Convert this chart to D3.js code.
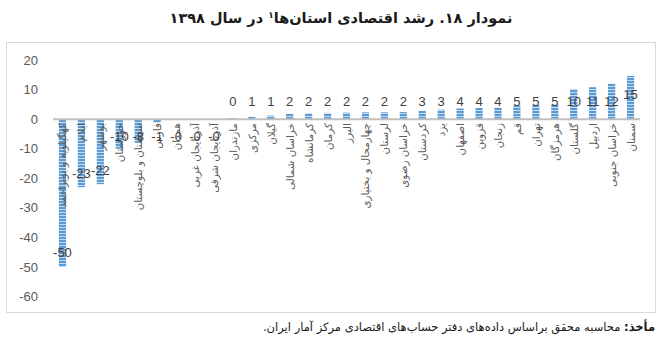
<!DOCTYPE html>
<html>
<head>
<meta charset="utf-8">
<script src="https://cdn.jsdelivr.net/npm/d3@7"></script>
<style>
  body { margin: 0; background: #fff; }
  svg { display: block; }
</style>
</head>
<body>
<svg id="chart"></svg>
<script>
var provinces = ["کهگیلویه و بویراحمد", "ایلام", "بوشهر", "خوزستان", "سیستان و بلوچستان", "فارس",
  "همدان", "آذربایجان غربی", "آذربایجان شرقی", "مازندران", "مرکزی", "گیلان", "خراسان شمالی",
  "کرمانشاه", "کرمان", "البرز", "چهارمحال و بختیاری", "لرستان", "خراسان رضوی", "کردستان",
  "یزد", "اصفهان", "قزوین", "زنجان", "قم", "تهران", "هرمزگان", "گلستان", "اردبیل",
  "خراسان جنوبی", "سمنان"];
var growth = [-50, -23, -22, -10, -8, -1.2, -0.3, -0.2, -0.2, 0.3, 0.8, 1.2, 1.8, 2.0, 2.1, 2.2,
  2.3, 2.3, 2.4, 2.8, 3.2, 3.6, 3.8, 4.0, 4.6, 4.7, 4.9, 10.2, 10.8, 12.0, 14.6];
var yTicks = [20, 10, 0, -10, -20, -30, -40, -50, -60];

var width = 665, height = 362;
var svg = d3.select("#chart").attr("width", width).attr("height", height);

// stripes for the bars
var pat = svg.append("defs").append("pattern")
  .attr("id", "stripes")
  .attr("patternUnits", "userSpaceOnUse")
  .attr("width", 8).attr("height", 3);
pat.append("rect").attr("width", 8).attr("height", 3).attr("fill", "#c5dcf0");
pat.append("rect").attr("width", 8).attr("height", 2).attr("fill", "#5b9bd5");

// title
svg.append("text")
  .attr("x", 341).attr("y", 23)
  .attr("text-anchor", "middle")
  .attr("direction", "rtl")
  .style("font-family", "DejaVu Sans")
  .style("font-size", "14.5px")
  .style("font-weight", "bold")
  .attr("fill", "#1a1a1a")
  .html("نمودار ۱۸. رشد اقتصادی استان‌ها<tspan dy='-5' font-size='9px'>۱</tspan><tspan dy='5'> در سال ۱۳۹۸</tspan>");

// frame
svg.append("rect")
  .attr("x", 6.5).attr("y", 42.5)
  .attr("width", 649).attr("height", 270)
  .attr("fill", "none")
  .attr("stroke", "#d9d9d9");

var x = d3.scaleBand()
  .domain(provinces)
  .range([53, 640])
  .paddingInner(0.62)
  .paddingOuter(0.31);

var y = d3.scaleLinear()
  .domain([-60, 20])
  .range([296.5, 60]);

// y axis labels only
var yAxis = svg.append("g")
  .attr("transform", "translate(40,0)")
  .call(d3.axisLeft(y).tickValues(yTicks).tickSize(0).tickPadding(2)
    .tickFormat(function(d) { return d < 0 ? "-" + Math.abs(d) : d; }));
yAxis.select(".domain").remove();
yAxis.selectAll("text")
  .style("font-family", "Liberation Sans")
  .style("font-size", "13px")
  .attr("fill", "#595959");

// bars
svg.append("g").selectAll("rect")
  .data(growth)
  .enter().append("rect")
  .attr("x", function(d, i) { return x(provinces[i]); })
  .attr("width", x.bandwidth())
  .attr("y", function(d) { return y(Math.max(0, d)); })
  .attr("height", function(d) { return Math.abs(y(d) - y(0)); })
  .attr("fill", "url(#stripes)");

// zero line
svg.append("line")
  .attr("x1", 53).attr("x2", 640)
  .attr("y1", y(0)).attr("y2", y(0))
  .attr("stroke", "#bfbfbf")
  .attr("stroke-width", 2);

// category labels, vertical
svg.append("g").selectAll("text")
  .data(provinces)
  .enter().append("text")
  .attr("transform", function(d) {
    return "translate(" + (x(d) + x.bandwidth() / 2 + 4) + "," + (y(0) + 4) + ") rotate(-90)";
  })
  .attr("text-anchor", "end")
  .style("font-family", "DejaVu Sans")
  .style("font-size", "10.3px")
  .attr("fill", "#595959")
  .text(function(d) { return d; });

// value labels
svg.append("g").selectAll("text")
  .data(growth)
  .enter().append("text")
  .attr("x", function(d, i) { return x(provinces[i]) + x.bandwidth() / 2; })
  .attr("y", function(d) {
    if (d >= 0) return Math.min(y(d) + 18, y(0) - 18);
    return Math.max(y(d) - 14, y(0) + 17);
  })
  .attr("dy", "0.35em")
  .attr("text-anchor", "middle")
  .style("font-family", "Liberation Sans")
  .style("font-size", "13px")
  .attr("fill", "#404040")
  .text(function(d) {
    var r = Math.round(Math.abs(d));
    return d < 0 ? "-" + r : r;
  });

// source note
svg.append("text")
  .attr("x", 655).attr("y", 331)
  .attr("direction", "rtl")
  .attr("text-anchor", "start")
  .style("font-family", "DejaVu Sans")
  .style("font-size", "11.5px")
  .attr("fill", "#1a1a1a")
  .html("<tspan font-weight='bold'>مأخذ:</tspan> محاسبه محقق براساس داده‌های دفتر حساب‌های اقتصادی مرکز آمار ایران.");
</script>
</body>
</html>
